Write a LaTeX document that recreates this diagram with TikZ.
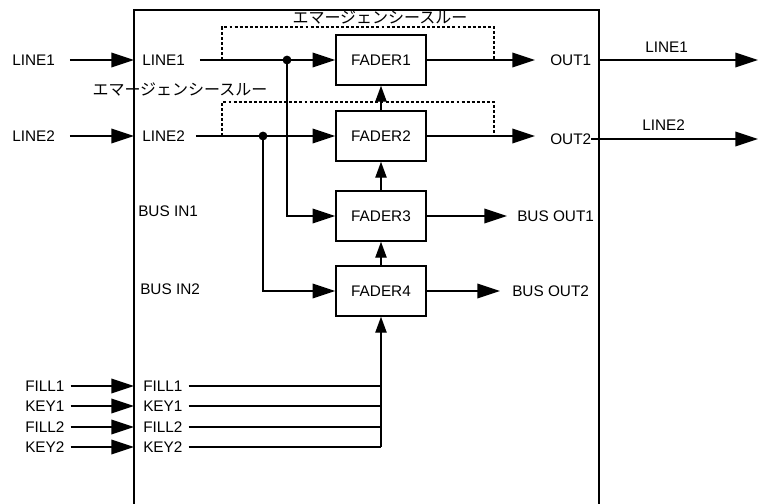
\documentclass[tikz,border=0pt]{standalone}
\usepackage{fontspec}
\setmainfont{Liberation Sans}
\newfontfamily\jpfont{Noto Sans CJK JP}
\usetikzlibrary{arrows.meta}

\begin{document}
\begin{tikzpicture}[x=0.75pt, y=-0.75pt,
  font=\fontsize{11.5}{13}\selectfont,
  wire/.style={line width=1.1pt},
  sig/.style={wire, -{Triangle[length=17pt,width=11pt]}},
  up/.style={wire, -{Triangle[length=12pt,width=8.5pt]}},
  thru/.style={line width=1pt, dash pattern=on 2.2pt off 1.6pt},
  fader/.style={draw, line width=1.1pt, minimum width=67.5pt, minimum height=37.5pt, inner sep=0pt},
  lbl/.style={inner sep=0pt, anchor=west},
  jp/.style={inner sep=0pt, font=\jpfont\fontsize{12}{14}\selectfont}]
  \useasboundingbox (0,0) rectangle (758,504);

  % Switcher frame (runs off the bottom)
  \draw[wire] (134,504) -- (134,10) -- (599,10) -- (599,504);

  % Faders
  \node[fader] (f1) at (381,60) {FADER1};
  \node[fader] (f2) at (381,136) {FADER2};
  \node[fader] (f3) at (381,216) {FADER3};
  \node[fader] (f4) at (381,291) {FADER4};
  \draw[up] (f2.north) -- (f1.south);
  \draw[up] (f3.north) -- (f2.south);
  \draw[up] (f4.north) -- (f3.south);

  % LINE1 in
  \node[lbl] (inA) at (12,60) {LINE1};
  \coordinate (pA) at (134,60);
  \draw[sig, shorten <=11pt] (inA.east) -- (pA);
  \node[lbl] (lnA) at (142,60) {LINE1};
  \draw[sig, shorten <=11pt] (lnA.east) -- (f1.west);
  \coordinate (jA) at (287,60);
  \fill (jA) circle (3.3pt);
  \draw[sig] (jA) |- (f3.west);

  % LINE2 in
  \node[lbl] (inB) at (12,136) {LINE2};
  \coordinate (pB) at (134,136);
  \draw[sig, shorten <=11pt] (inB.east) -- (pB);
  \node[lbl] (lnB) at (142,136) {LINE2};
  \draw[sig, shorten <=8pt] (lnB.east) -- (f2.west);
  \coordinate (jB) at (263,136);
  \fill (jB) circle (3.3pt);
  \draw[sig] (jB) |- (f4.west);

  % Emergency through (dotted bypass)
  \coordinate (tA) at (222,60);
  \coordinate (uA) at (494,60);
  \draw[thru] (tA) -- ++(0,-33) -| (uA);
  \node[jp] (emA) at (380,18) {エマージェンシースルー};
  \coordinate (tB) at (222,136);
  \coordinate (uB) at (494,136);
  \draw[thru] (tB) -- ++(0,-34) -| (uB);
  \node[jp] (emB) at (180,90) {エマージェンシースルー};

  % Program outputs
  \coordinate (oA) at (535,60);
  \draw[sig] (f1.east) -- (oA);
  \node[lbl] (outA) at (550,60) {OUT1};
  \coordinate (rA) at (599,60);
  \coordinate (eA) at (758,60);
  \draw[sig] (rA) -- (eA);
  \node[lbl] at (645,47) {LINE1};

  \coordinate (oB) at (535,136);
  \draw[sig] (f2.east) -- (oB);
  \node[lbl] (outB) at (550,139) {OUT2};
  \coordinate (eB) at (758,139);
  \draw[sig] (outB.east) -- (eB);
  \node[lbl] at (642,125) {LINE2};

  % Bus outputs
  \coordinate (oC) at (507,216);
  \draw[sig] (f3.east) -- (oC);
  \node[lbl] (busA) at (517,216) {BUS OUT1};
  \coordinate (oD) at (500,291);
  \draw[sig] (f4.east) -- (oD);
  \node[lbl] (busB) at (512,291) {BUS OUT2};
  \node[lbl] (binA) at (138,211) {BUS IN1};
  \node[lbl] (binB) at (140,289) {BUS IN2};

  % Fill / key inputs
  \foreach \y/\t [count=\i] in {386/FILL1, 406/KEY1, 427/FILL2, 447/KEY2} {
    \node[lbl] (kx\i) at (25,\y) {\t};
    \coordinate (kp\i) at (134,\y);
    \draw[sig, shorten <=4.5pt] (kx\i.east) -- (kp\i);
    \node[lbl] (ki\i) at (143,\y) {\t};
    \coordinate (kb\i) at (381,\y);
    \draw[wire, shorten <=4.5pt] (ki\i.east) -- (kb\i);
  }
  \draw[up] (kb4) -- (f4.south);
\end{tikzpicture}
\end{document}
